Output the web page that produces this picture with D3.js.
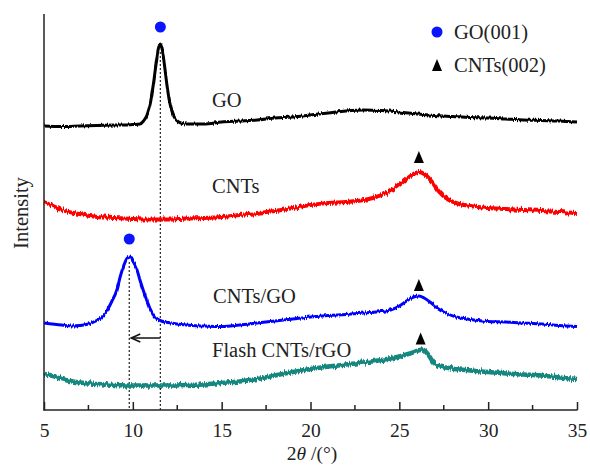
<!DOCTYPE html>
<html><head><meta charset="utf-8">
<script src="https://cdn.jsdelivr.net/npm/d3@7"></script>
<style>
body{margin:0;background:#fff;}
text{font-family:"Liberation Serif","Times New Roman",serif;fill:#222;}
</style>
</head><body>
<svg id="chart" width="590" height="466"></svg>
<script>
// ---- data (2θ in degrees, intensity in arbitrary stacked units) ----
const goAngle = [5,6,7,8,9,9.5,10,10.4,10.6,10.8,11.0,11.15,11.3,11.42,11.55,11.66,11.78,11.92,12.07,12.25,12.45,12.7,13,14,15,16,17,18,19,20,21,22,23,24,25,26,27,28,29,30,31,32,33,34,35];
const goIntensity = [284,283.5,284,284.5,285,285,285.5,286,289,295,308,325,345,360,366,360,345,325,308,296,290,287,286,286,288,289,290,292,293,295,297,299,300,299.5,298,296,294.5,293.5,292.5,292,291,290,289.5,289,288];

const cntAngle = [5,5.5,6,7,8,9,10,11,12,13,14,15,16,17,18,19,20,21,22,23,23.5,24,24.5,25,25.4,25.8,26.1,26.4,26.8,27.2,27.7,28.2,29,30,31,32,33,34,35];
const cntIntensity = [208,204,200,196,193,192,191,190.5,190.5,191.5,192,193,195,197,199,202,205,207,208,210,212,215,219,225,231,236,238,236,229,219,211,207,204,202,201,200,199,198,197];

const cntGoAngle = [5,6,6.6,7,7.5,7.8,8.2,8.5,8.8,9.1,9.3,9.5,9.7,9.85,10.0,10.2,10.4,10.6,10.8,11.0,11.25,11.6,12,13,14,15,16,17,18,19,20,21,22,23,24,24.5,25,25.4,25.8,26.1,26.4,26.8,27.2,27.6,28.2,29,30,31,32,33,34,35];
const cntGoIntensity = [87,85,84,84.5,86,88,92,98,108,120,134,145,152,153,149,142,130,119,109,100,93,89,87.5,85,84,83.5,85,87,89,91,93,94.5,95.5,97,98.5,100,104,109,113,114,112,107,101,97,93,90.5,88.5,88,87,86,84.5,83.5];

const flashAngle = [5,5.5,6,7,8,9,10,11,12,13,14,15,16,17,18,19,20,21,22,23,24,25,25.5,26,26.3,26.6,26.9,27.2,27.6,28.1,29,30,31,32,33,34,35];
const flashIntensity = [36,34,31,27.5,26,25,24.5,24.5,24.5,25,25.5,27,28.5,31,34.5,38,41,43.5,45.5,47.5,50,53.5,56,59,60.5,56,48,44,42.5,41,39.5,38,36.5,35.5,34.5,32.5,31];

const seriesNames = ["GO","CNTs","CNTs/GO","Flash CNTs/rGO"];
const seriesColors = ["#000000","#ff0000","#0000ff","#13877f"];
const xTicks = [5,10,15,20,25,30,35];
const xMinorTicks = [7.5,12.5,17.5,22.5,27.5,32.5];
const go001Angle = [11.55, 9.8];        // GO(001) peaks: GO, CNTs/GO
const cnt002Angle = [26.1, 26.1, 26.2]; // CNTs(002) peaks: CNTs, CNTs/GO, Flash
const legendLabels = ["GO(001)","CNTs(002)"];

// ---- layout ----
const svg = d3.select("#chart");
const L = 44, R = 577, T = 10, B = 410;
const x = d3.scaleLinear().domain([5,35]).range([L,R]);
const y = d3.scaleLinear().domain([0,400]).range([B,T]);

// texture filter giving the measured traces a grainy (vertical-only) look
const defs = svg.append("defs");
[["grainS",4],["grainL",6]].forEach(([id,sc])=>{
  const f = defs.append("filter").attr("id",id).attr("filterUnits","userSpaceOnUse")
    .attr("x",0).attr("y",0).attr("width",590).attr("height",466);
  f.append("feTurbulence").attr("type","fractalNoise").attr("baseFrequency","0.7 0.04")
    .attr("numOctaves",2).attr("seed",3).attr("result","n0");
  f.append("feColorMatrix").attr("in","n0").attr("type","matrix")
    .attr("values","1 0 0 0 0  0 1 0 0 0  0 0 0 0 0.5  0 0 0 0 1").attr("result","n");
  f.append("feDisplacementMap").attr("in","SourceGraphic").attr("in2","n")
    .attr("scale",sc).attr("xChannelSelector","B").attr("yChannelSelector","R");
});

const series = [
  {name:seriesNames[0], color:seriesColors[0], a:goAngle, v:goIntensity, w:3.0, f:"grainS"},
  {name:seriesNames[1], color:seriesColors[1], a:cntAngle, v:cntIntensity, w:4.0, f:"grainL"},
  {name:seriesNames[2], color:seriesColors[2], a:cntGoAngle, v:cntGoIntensity, w:3.0, f:"grainS"},
  {name:seriesNames[3], color:seriesColors[3], a:flashAngle, v:flashIntensity, w:4.5, f:"grainL"}
];

const line = d3.line().x(d=>x(d[0])).y(d=>y(d[1])).curve(d3.curveMonotoneX);

const peakVal = (s, ang) => {
  let best = 0, bd = 1e9;
  s.a.forEach((a,i)=>{ if (Math.abs(a-ang) < bd){bd=Math.abs(a-ang); best=i;} });
  return s.v[best];
};

// dotted guide lines
svg.append("line").attr("x1",x(go001Angle[0])).attr("x2",x(go001Angle[0]))
  .attr("y1",y(peakVal(series[0],go001Angle[0]))+8).attr("y2",B)
  .attr("stroke","#333").attr("stroke-width",1.3).attr("stroke-dasharray","2,2");
svg.append("line").attr("x1",x(go001Angle[1])).attr("x2",x(go001Angle[1]))
  .attr("y1",y(peakVal(series[2],go001Angle[1]))+5).attr("y2",B)
  .attr("stroke","#333").attr("stroke-width",1.3).attr("stroke-dasharray","2,2");

// curves
series.forEach(s=>{
  svg.append("path").datum(s.a.map((a,i)=>[a,s.v[i]]))
    .attr("d",line).attr("fill","none").attr("stroke",s.color)
    .attr("stroke-width",s.w).attr("stroke-linejoin","round")
    .attr("filter",`url(#${s.f})`);
});

// arrow showing the shift
const ay = 338;
svg.append("line").attr("x1",x(go001Angle[0])).attr("x2",x(go001Angle[1])+3)
  .attr("y1",ay).attr("y2",ay).attr("stroke","#111").attr("stroke-width",1.5);
const ax = x(go001Angle[1])+2;
svg.append("path").attr("d",`M${ax+9},${ay-4} L${ax},${ay} L${ax+9},${ay+4}`)
  .attr("fill","none").attr("stroke","#111").attr("stroke-width",1.6);

// peak markers
function tri(cx, cy, w, h){ return `M${cx},${cy-h/2} L${cx+w/2},${cy+h/2} L${cx-w/2},${cy+h/2} Z`; }
[[series[0],go001Angle[0],12],[series[2],go001Angle[1],13]].forEach(([s,a,gap])=>{
  svg.append("circle").attr("cx",x(a)).attr("cy",y(peakVal(s,a))-gap-5).attr("r",5.5).attr("fill","#0a14ff");
});
[[series[1],cnt002Angle[0],15],[series[2],cnt002Angle[1],11],[series[3],cnt002Angle[2],11]].forEach(([s,a,gap])=>{
  svg.append("path").attr("d",tri(x(a), y(peakVal(s,a))-gap, 10, 12)).attr("fill","#000");
});

// series labels
const labelPos = [[212,107],[212,193],[213,303],[212,357]];
series.forEach((s,i)=>{
  svg.append("text").attr("x",labelPos[i][0]).attr("y",labelPos[i][1])
    .attr("font-size",20.5).text(s.name);
});

// legend
svg.append("circle").attr("cx",437).attr("cy",32).attr("r",5.5).attr("fill","#0a14ff");
svg.append("text").attr("x",454).attr("y",39).attr("font-size",20.5).text(legendLabels[0]);
svg.append("path").attr("d",tri(437,65,10,12)).attr("fill","#000");
svg.append("text").attr("x",454).attr("y",72).attr("font-size",20.5).text(legendLabels[1]);

// axes
const axisColor = "#222";
svg.append("line").attr("x1",L).attr("x2",L).attr("y1",14).attr("y2",B+0.5)
  .attr("stroke",axisColor).attr("stroke-width",1.5);
svg.append("line").attr("x1",L-0.5).attr("x2",R+0.5).attr("y1",B).attr("y2",B)
  .attr("stroke",axisColor).attr("stroke-width",1.5);
const xAxis = d3.axisBottom(x).tickValues(xTicks).tickSizeInner(-8).tickSizeOuter(0).tickPadding(13);
const gx = svg.append("g").attr("transform",`translate(0,${B})`).call(xAxis);
gx.select(".domain").remove();
gx.selectAll(".tick line").attr("stroke",axisColor).attr("stroke-width",1.5);
gx.selectAll(".tick text").attr("font-size",19.5).attr("fill","#222")
  .attr("font-family","'Liberation Serif','Times New Roman',serif");
svg.append("g").selectAll("line").data(xMinorTicks).join("line")
  .attr("x1",d=>x(d)).attr("x2",d=>x(d)).attr("y1",B).attr("y2",B-5)
  .attr("stroke",axisColor).attr("stroke-width",1.5);

// axis titles
const xt = svg.append("text").attr("x",312).attr("y",460).attr("text-anchor","middle").attr("font-size",19.5);
xt.append("tspan").text("2");
xt.append("tspan").attr("font-style","italic").text("θ");
xt.append("tspan").text(" /(°)");
svg.append("text").attr("transform","translate(28,213) rotate(-90)")
  .attr("text-anchor","middle").attr("font-size",20.5).text("Intensity");
</script>
</body></html>
